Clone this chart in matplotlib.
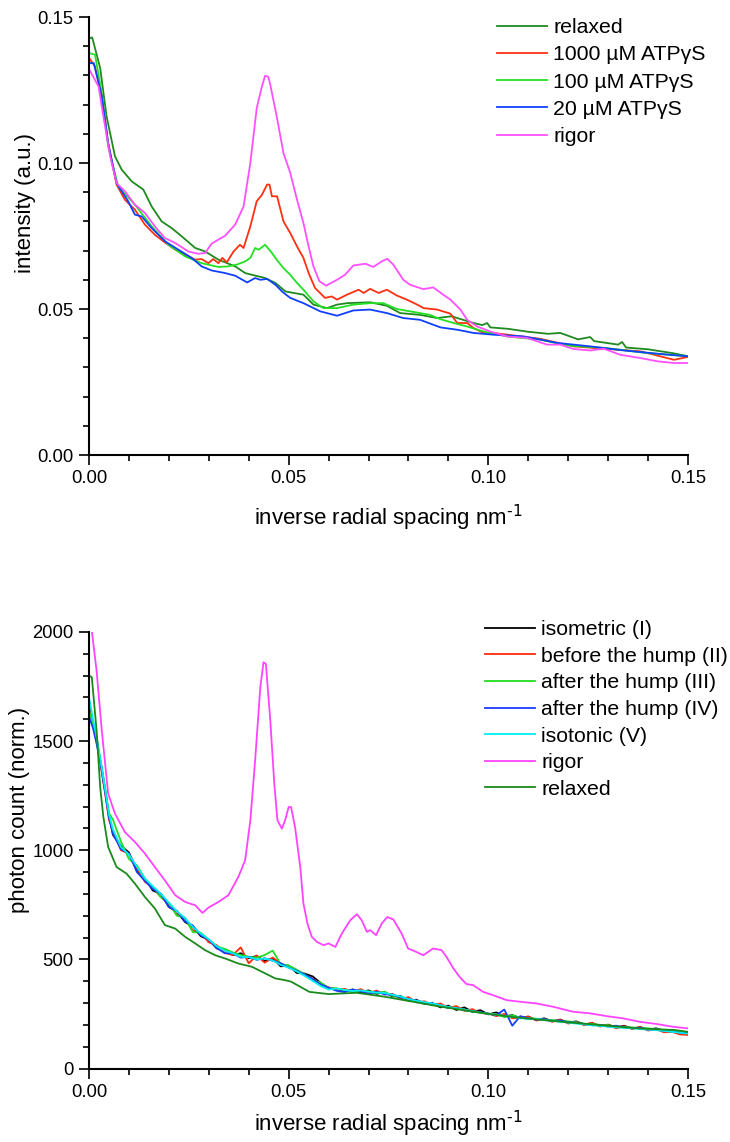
import matplotlib
matplotlib.use("Agg")
import matplotlib.pyplot as plt
from matplotlib.ticker import MultipleLocator, FormatStrFormatter

plt.rcParams["font.family"] = ["Liberation Sans", "DejaVu Sans"]
plt.rcParams["mathtext.default"] = "regular"

# ---------------- top panel: ATPgammaS series ----------------
relaxed_top_x = [0.0, 0.0008, 0.0028, 0.0044, 0.0065, 0.0082, 0.0107, 0.0136, 0.0157, 0.0182,
                 0.0207, 0.0232, 0.0266, 0.0291, 0.0324, 0.0366, 0.0391, 0.0441, 0.0467, 0.0492,
                 0.0537, 0.0562, 0.0596, 0.0621, 0.0646, 0.0704, 0.0746, 0.0779, 0.0829, 0.0872,
                 0.0908, 0.0963, 0.0985, 0.0997, 0.1005, 0.105, 0.110, 0.115, 0.118, 0.1225,
                 0.1255, 0.1265, 0.1325, 0.1335, 0.1345, 0.140, 0.1465, 0.150]
relaxed_top_y = [0.1426, 0.143, 0.1325, 0.116, 0.1023, 0.0977, 0.0937, 0.0909, 0.0851, 0.080,
                 0.0777, 0.0749, 0.0709, 0.0697, 0.0669, 0.0646, 0.0623, 0.0606, 0.0589, 0.056,
                 0.0549, 0.0515, 0.0503, 0.0515, 0.052, 0.0523, 0.0511, 0.0486, 0.048, 0.0469,
                 0.0475, 0.0452, 0.0445, 0.0452, 0.0437, 0.0432, 0.0422, 0.0415, 0.0418, 0.0396,
                 0.0404, 0.039, 0.0378, 0.0387, 0.0368, 0.0362, 0.0348, 0.0338]

atp1000_x = [0.0, 0.0015, 0.0032, 0.0048, 0.0069, 0.009, 0.0115, 0.014, 0.0165, 0.019,
             0.0216, 0.0241, 0.0266, 0.0282, 0.0299, 0.0311, 0.0324, 0.0334, 0.0345, 0.0362,
             0.0378, 0.0387, 0.0404, 0.042, 0.0433, 0.0446, 0.0452, 0.0458, 0.0471, 0.0487,
             0.0504, 0.0521, 0.0537, 0.055, 0.0566, 0.0591, 0.0608, 0.0621, 0.0646, 0.0675,
             0.0688, 0.0704, 0.0725, 0.0746, 0.0771, 0.0796, 0.0822, 0.0838, 0.0872, 0.0905,
             0.0922, 0.0947, 0.0963, 0.0988, 0.1013, 0.107, 0.113, 0.1213, 0.128, 0.1381,
             0.1465, 0.150]
atp1000_y = [0.136, 0.1331, 0.1228, 0.1068, 0.0926, 0.0874, 0.084, 0.0789, 0.0754, 0.0728,
             0.0703, 0.0686, 0.0669, 0.0671, 0.0657, 0.0671, 0.0657, 0.0675, 0.066, 0.0697,
             0.072, 0.0709, 0.0783, 0.0869, 0.0891, 0.0926, 0.0926, 0.0886, 0.0886, 0.080,
             0.076, 0.0714, 0.0675, 0.0623, 0.0572, 0.0538, 0.0543, 0.0532, 0.0549, 0.0566,
             0.0555, 0.0569, 0.0555, 0.0566, 0.0546, 0.0532, 0.0515, 0.0503, 0.0498, 0.0484,
             0.0452, 0.0452, 0.0435, 0.0418, 0.0418, 0.0408, 0.0398, 0.0372, 0.0365, 0.0355,
             0.0326, 0.0336]

atp100_x = [0.0, 0.0015, 0.0032, 0.0048, 0.0073, 0.0115, 0.0157, 0.0199, 0.0241, 0.0282,
            0.0324, 0.0349, 0.037, 0.0391, 0.0404, 0.0416, 0.0425, 0.0441, 0.0458, 0.047,
            0.0487, 0.0504, 0.0521, 0.0537, 0.0562, 0.0587, 0.0621, 0.0662, 0.0704, 0.0737,
            0.0771, 0.0804, 0.0854, 0.088, 0.0913, 0.0947, 0.0988, 0.1047, 0.113, 0.1197,
            0.1297, 0.1398, 0.150]
atp100_y = [0.1377, 0.1371, 0.124, 0.1057, 0.092, 0.0857, 0.0783, 0.072, 0.068, 0.0657,
            0.0644, 0.0646, 0.0652, 0.0663, 0.0675, 0.0709, 0.0703, 0.072, 0.0692, 0.0669,
            0.064, 0.0617, 0.0589, 0.0566, 0.0526, 0.0503, 0.0503, 0.0515, 0.052, 0.052,
            0.050, 0.0492, 0.048, 0.0465, 0.0452, 0.044, 0.0423, 0.0406, 0.0395, 0.0375,
            0.0366, 0.0349, 0.0338]

atp20_x = [0.0, 0.0012, 0.0032, 0.0048, 0.0069, 0.0098, 0.0115, 0.0132, 0.0157, 0.019,
           0.0224, 0.0257, 0.0282, 0.0307, 0.0341, 0.0366, 0.0396, 0.0416, 0.0429, 0.0446,
           0.0467, 0.0485, 0.0504, 0.0537, 0.0579, 0.0621, 0.0662, 0.0704, 0.0746, 0.0787,
           0.0829, 0.088, 0.0922, 0.0963, 0.1013, 0.1089, 0.1172, 0.1255, 0.134, 0.1423,
           0.150]
atp20_y = [0.1342, 0.1342, 0.1228, 0.1068, 0.0931, 0.0869, 0.0823, 0.0817, 0.0777, 0.0732,
           0.0703, 0.0675, 0.0646, 0.0632, 0.0623, 0.0614, 0.0591, 0.0606, 0.060, 0.0603,
           0.0583, 0.0558, 0.0538, 0.052, 0.0492, 0.0477, 0.0495, 0.0498, 0.0486, 0.0469,
           0.0463, 0.0437, 0.0429, 0.0418, 0.0412, 0.0406, 0.0384, 0.0372, 0.0358, 0.0347,
           0.0338]

rigor_top_x = [0.0, 0.0024, 0.0036, 0.0053, 0.0069, 0.009, 0.0115, 0.014, 0.0165, 0.019,
               0.0216, 0.0249, 0.0274, 0.0291, 0.0307, 0.0341, 0.0366, 0.0387, 0.0404, 0.042,
               0.0433, 0.0441, 0.0449, 0.0453, 0.047, 0.0487, 0.0504, 0.0521, 0.0537, 0.055,
               0.0562, 0.0577, 0.0594, 0.0621, 0.0641, 0.0662, 0.0692, 0.0712, 0.0733, 0.0747,
               0.0762, 0.0787, 0.0804, 0.0837, 0.0862, 0.0887, 0.0905, 0.093, 0.0947, 0.0972,
               0.1005, 0.1047, 0.1097, 0.1147, 0.118, 0.1213, 0.1255, 0.1289, 0.1331, 0.1381,
               0.1423, 0.1465, 0.150]
rigor_top_y = [0.1322, 0.1262, 0.116, 0.1023, 0.0931, 0.0903, 0.0857, 0.0829, 0.0783, 0.0743,
               0.0726, 0.0697, 0.0689, 0.0692, 0.0724, 0.0751, 0.0789, 0.0851, 0.100, 0.1188,
               0.1262, 0.1299, 0.1295, 0.1274, 0.116, 0.1034, 0.0966, 0.0874, 0.0794, 0.0714,
               0.0646, 0.0595, 0.058, 0.060, 0.0617, 0.0649, 0.0655, 0.0644, 0.0663, 0.0672,
               0.0652, 0.060, 0.0583, 0.0568, 0.0574, 0.0549, 0.0532, 0.0498, 0.0463, 0.044,
               0.0423, 0.0406, 0.0401, 0.0378, 0.0378, 0.0363, 0.0358, 0.0364, 0.0343, 0.0332,
               0.0321, 0.0315, 0.0315]

# ---------------- bottom panel: mechanical states ----------------
state_x = [0.0, 0.001, 0.002, 0.003, 0.004, 0.005, 0.006,
           0.008, 0.010, 0.012, 0.014, 0.016, 0.018, 0.020, 0.022, 0.024, 0.026,
           0.028, 0.030, 0.032, 0.034, 0.036, 0.038, 0.040, 0.042, 0.044, 0.046,
           0.048, 0.050, 0.052, 0.054, 0.056, 0.058, 0.060, 0.062, 0.064, 0.066,
           0.068, 0.070, 0.072, 0.074, 0.076, 0.078, 0.080, 0.082, 0.084, 0.086,
           0.088, 0.090, 0.092, 0.094, 0.096, 0.098, 0.100, 0.102, 0.104, 0.106,
           0.108, 0.110, 0.112, 0.114, 0.116, 0.118, 0.120, 0.122, 0.124, 0.126,
           0.128, 0.130, 0.132, 0.134, 0.136, 0.138, 0.140, 0.142, 0.144, 0.146,
           0.148, 0.150]
isometric = [1663, 1590, 1490, 1395, 1280, 1160, 1070, 1020, 990, 905, 870, 815, 800, 740,
             720, 672, 650, 606, 590, 550, 545, 520, 528, 505, 516, 492, 505, 468, 472, 438,
             435, 422, 392, 368, 365, 352, 362, 348, 358, 342, 350, 330, 332, 312, 315, 296,
             300, 280, 288, 268, 280, 260, 267, 248, 257, 238, 245, 230, 238, 222, 230, 216,
             224, 210, 216, 202, 208, 194, 201, 188, 196, 182, 190, 178, 184, 172, 176, 164,
             156]
before_hump = [1648, 1570, 1510, 1380, 1265, 1140, 1090, 1000, 985, 920, 855, 830, 785, 755,
               705, 690, 632, 620, 578, 565, 530, 520, 555, 482, 518, 485, 508, 482, 465, 450,
               428, 410, 388, 372, 360, 365, 350, 364, 346, 357, 340, 342, 320, 327, 303, 308,
               290, 298, 278, 286, 264, 272, 254, 252, 240, 250, 230, 232, 238, 220, 226, 214,
               224, 206, 214, 198, 210, 192, 200, 184, 194, 182, 190, 174, 180, 166, 168, 156,
               154]
after_hump3 = [1640, 1575, 1495, 1400, 1290, 1170, 1140, 1040, 960, 930, 870, 830, 785, 760,
               700, 690, 625, 622, 590, 560, 548, 532, 520, 512, 508, 520, 540, 478, 472, 453,
               432, 403, 394, 368, 367, 360, 352, 354, 354, 346, 352, 333, 327, 318, 310, 301,
               294, 286, 278, 278, 267, 260, 256, 250, 248, 236, 244, 233, 231, 228, 224, 222,
               218, 216, 212, 204, 204, 200, 198, 192, 190, 188, 186, 184, 180, 176, 174, 168,
               166]
after_hump4 = [1610, 1560, 1480, 1385, 1270, 1150, 1075, 1005, 985, 900, 860, 822, 800, 740,
               722, 676, 655, 610, 590, 552, 528, 528, 508, 512, 498, 505, 494, 482, 462, 448,
               430, 410, 385, 370, 356, 350, 362, 355, 342, 352, 340, 338, 326, 318, 312, 300,
               298, 288, 278, 276, 268, 262, 258, 250, 245, 270, 196, 240, 230, 224, 226, 218,
               220, 212, 210, 204, 198, 200, 192, 196, 188, 186, 186, 178, 180, 172, 170, 164,
               162]
isotonic = [1700, 1600, 1510, 1400, 1285, 1165, 1095, 1015, 980, 925, 870, 835, 800, 760,
            720, 690, 648, 618, 592, 560, 540, 528, 512, 510, 500, 504, 495, 475, 462, 445,
            425, 402, 378, 362, 366, 360, 355, 358, 352, 348, 346, 338, 330, 318, 310, 304,
            298, 290, 282, 276, 270, 264, 256, 252, 246, 242, 236, 232, 226, 228, 222, 218,
            214, 210, 206, 202, 198, 195, 192, 188, 186, 184, 181, 178, 176, 172, 168, 164,
            160]

rigor_bot_x = [0.0, 0.0007, 0.0019, 0.0032, 0.0048, 0.0065, 0.009, 0.0115, 0.014, 0.0165,
               0.019, 0.0216, 0.0241, 0.0266, 0.0284, 0.0299, 0.0324, 0.0349, 0.0374, 0.0391,
               0.0404, 0.0416, 0.0429, 0.0437, 0.0443, 0.0454, 0.0464, 0.0472, 0.0483, 0.0491,
               0.050, 0.0506, 0.0516, 0.0529, 0.0537, 0.0547, 0.0558, 0.0571, 0.0587, 0.060,
               0.0617, 0.0633, 0.0654, 0.0671, 0.0683, 0.0696, 0.0704, 0.0719, 0.0733, 0.0747,
               0.0762, 0.0783, 0.0799, 0.082, 0.0837, 0.0862, 0.0883, 0.0895, 0.0912, 0.0928,
               0.0945, 0.0962, 0.0987, 0.1012, 0.1046, 0.1079, 0.112, 0.1162, 0.1212, 0.1254,
               0.1296, 0.1337, 0.1379, 0.1421, 0.1463, 0.150]
rigor_bot_y = [2120, 2006, 1823, 1549, 1259, 1168, 1083, 1038, 985, 923,
               862, 794, 763, 748, 713, 737, 763, 794, 878, 954,
               1137, 1411, 1747, 1861, 1854, 1594, 1305, 1137, 1099, 1137,
               1198, 1198, 1106, 923, 756, 664, 603, 580, 565, 573,
               557, 618, 679, 707, 679, 626, 634, 611, 664, 694,
               683, 618, 550, 534, 519, 550, 542, 512, 460, 420,
               387, 382, 351, 336, 313, 306, 298, 283, 260, 253,
               240, 230, 214, 204, 191, 184]

relaxed_bot_x = [0.0, 0.0007, 0.0019, 0.0028, 0.0036, 0.0048, 0.0069, 0.0094, 0.0115, 0.014,
                 0.0165, 0.019, 0.0216, 0.0241, 0.0266, 0.0291, 0.0316, 0.0341, 0.0374, 0.0408,
                 0.0441, 0.0466, 0.049, 0.0506, 0.0552, 0.060, 0.067, 0.074, 0.0811, 0.0881,
                 0.0951, 0.1022, 0.1092, 0.1186, 0.128, 0.1374, 0.1468, 0.150]
relaxed_bot_y = [1800, 1793, 1549, 1289, 1152, 1015, 923, 893, 847, 786,
                 733, 657, 641, 603, 573, 542, 519, 504, 481, 466,
                 436, 413, 405, 398, 351, 341, 347, 329, 306, 283,
                 264, 245, 230, 214, 199, 184, 176, 168]

LW = 1.3


def style_axes(ax, ymajor, yminor, yfmt, xpad):
    for side in ["top", "right"]:
        ax.spines[side].set_visible(False)
    for side in ["left", "bottom"]:
        ax.spines[side].set_linewidth(1.5)
    ax.set_xlim(0, 0.15)
    ax.xaxis.set_major_locator(MultipleLocator(0.05))
    ax.xaxis.set_minor_locator(MultipleLocator(0.01))
    ax.xaxis.set_major_formatter(FormatStrFormatter("%.2f"))
    ax.yaxis.set_major_locator(MultipleLocator(ymajor))
    ax.yaxis.set_minor_locator(MultipleLocator(yminor))
    ax.yaxis.set_major_formatter(FormatStrFormatter(yfmt))
    ax.tick_params(which="major", direction="out", length=7, width=1.2, labelsize=13.3, pad=4)
    ax.tick_params(which="minor", direction="out", length=4, width=1.2)
    ax.set_xlabel(r"inverse radial spacing nm$^{\text{-1}}$", fontsize=16, labelpad=xpad)


fig = plt.figure(figsize=(7.3, 11.42), dpi=100)
ax1 = fig.add_axes([89 / 730, 1 - 455 / 1142, 599 / 730, 438 / 1142])
ax2 = fig.add_axes([89 / 730, 1 - 1068.5 / 1142, 599 / 730, 436.5 / 1142])

ax1.plot(relaxed_top_x, relaxed_top_y, color="#1f8a1f", lw=LW, label="relaxed")
ax1.plot(atp1000_x, atp1000_y, color="#ff3010", lw=LW, label="1000 µM ATPγS")
ax1.plot(atp100_x, atp100_y, color="#22e022", lw=LW, label="100 µM ATPγS")
ax1.plot(atp20_x, atp20_y, color="#1040ff", lw=LW, label="20 µM ATPγS")
ax1.plot(rigor_top_x, rigor_top_y, color="#ff50ff", lw=LW, label="rigor")
style_axes(ax1, 0.05, 0.01, "%.2f", 11)
ax1.set_ylim(0, 0.15)
ax1.set_ylabel("intensity (a.u.)", fontsize=16)
ax1.yaxis.set_label_coords(-0.088, 0.575)
ax1.legend(loc="upper left", bbox_to_anchor=(497 / 730, 1 - 18 / 1142),
           bbox_transform=fig.transFigure, frameon=False, fontsize=15.3,
           handlelength=2.35, handletextpad=0.3, labelspacing=0.39,
           borderpad=0, borderaxespad=0)

ax2.plot(state_x, isometric, color="#000000", lw=LW, label="isometric (I)")
ax2.plot(state_x, before_hump, color="#ff2a0a", lw=LW, label="before the hump (II)")
ax2.plot(state_x, after_hump3, color="#22dd22", lw=LW, label="after the hump (III)")
ax2.plot(state_x, after_hump4, color="#1a3cff", lw=LW, label="after the hump (IV)")
ax2.plot(state_x, isotonic, color="#00f0f0", lw=LW, label="isotonic (V)")
ax2.plot(rigor_bot_x, rigor_bot_y, color="#ff44ff", lw=LW, label="rigor")
ax2.plot(relaxed_bot_x, relaxed_bot_y, color="#1a8a1a", lw=LW, label="relaxed")
style_axes(ax2, 500, 100, "%d", 6)
ax2.set_ylim(0, 2000)
ax2.set_ylabel("photon count (norm.)", fontsize=16)
ax2.yaxis.set_label_coords(-0.098, 0.592)
ax2.legend(loc="upper left", bbox_to_anchor=(485 / 730, 1 - 620 / 1142),
           bbox_transform=fig.transFigure, frameon=False, fontsize=15.3,
           handlelength=2.35, handletextpad=0.3, labelspacing=0.36,
           borderpad=0, borderaxespad=0)

fig.savefig("out.png", dpi=100)
